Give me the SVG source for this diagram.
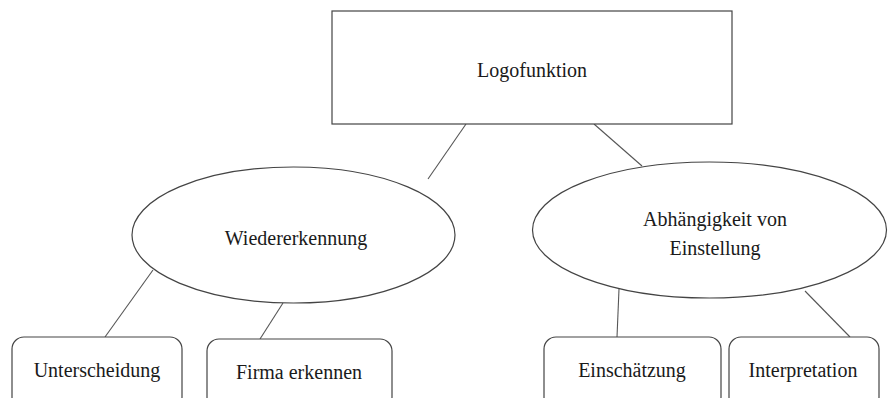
<svg xmlns="http://www.w3.org/2000/svg" width="888" height="398" viewBox="0 0 888 398">
<style>
.n{fill:#fff;stroke:#444;stroke-width:1.2}
.c line{stroke:#555;stroke-width:1.1}
.t{font-family:'Liberation Serif','DejaVu Serif','Times New Roman',serif;font-size:20px;fill:#1a1a1a;text-anchor:middle}
</style>
<rect width="888" height="398" fill="#fff"/>
<g id="connectors" class="c">
<line x1="466" y1="124" x2="428" y2="179"/>
<line x1="594" y1="124" x2="642" y2="166"/>
<line x1="153" y1="270" x2="105" y2="337"/>
<line x1="283" y1="303" x2="260" y2="339"/>
<line x1="619" y1="289" x2="617" y2="337"/>
<line x1="805" y1="291" x2="850" y2="337"/>
</g>
<g id="logofunktion">
<rect class="n" x="332" y="11" width="400" height="113"/>
<text class="t" font-family="Liberation Serif, serif" x="532" y="77">Logofunktion</text>
</g>
<g id="wiedererkennung">
<ellipse class="n" cx="293.5" cy="235" rx="161.5" ry="68"/>
<text class="t" x="296" y="245">Wiedererkennung</text>
</g>
<g id="abhaengigkeit">
<ellipse class="n" cx="709.5" cy="230" rx="177" ry="68"/>
<text class="t" x="715" y="226">Abhängigkeit von</text>
<text class="t" x="715" y="255">Einstellung</text>
</g>
<g id="unterscheidung">
<rect class="n" x="12" y="337" width="170" height="72" rx="12"/>
<text class="t" x="97" y="377">Unterscheidung</text>
</g>
<g id="firma">
<rect class="n" x="207" y="339" width="185" height="70" rx="12"/>
<text class="t" x="299" y="379">Firma erkennen</text>
</g>
<g id="einschaetzung">
<rect class="n" x="544" y="337" width="177" height="72" rx="12"/>
<text class="t" x="632" y="377">Einschätzung</text>
</g>
<g id="interpretation">
<rect class="n" x="729" y="337" width="150" height="72" rx="12"/>
<text class="t" x="803" y="377">Interpretation</text>
</g>
</svg>
